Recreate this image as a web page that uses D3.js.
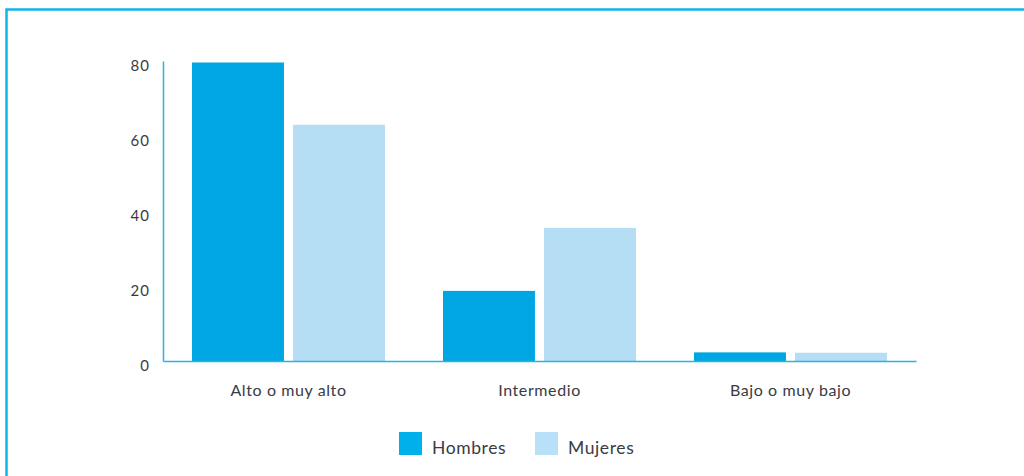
<!DOCTYPE html>
<html><head><meta charset="utf-8">
<script src="https://cdn.jsdelivr.net/npm/d3@7"></script>
<style>
html,body{margin:0;padding:0;background:#fff;}
svg{display:block;}
text{font-family:Lato,"Noto Sans",sans-serif;fill:#3a3a45;}
</style></head>
<body>
<svg id="chart" width="1024" height="476"></svg>
<script>
const categories = ["Alto o muy alto", "Intermedio", "Bajo o muy bajo"];
const seriesNames = ["Hombres", "Mujeres"];
const hombres = [79.6, 18.7, 2.3];
const mujeres = [63.0, 35.5, 2.2];
const yTicks = [0, 20, 40, 60, 80];
const colors = ["#00a6e2", "#b5ddf4"];

(function(){
const svg = d3.select("#chart");
const FONT = "Lato,'Noto Sans',sans-serif";
// frame
svg.append("path").attr("d","M6.5,476 L6.5,9.5 L1030,9.5")
  .attr("fill","none").attr("stroke","#0fb4ea").attr("stroke-width",2.5);

const mLeft = 163, mRight = 916, mTop = 61, mBottom = 361;
const x0 = d3.scaleBand().domain(categories).range([mLeft, mRight]).paddingInner(0).paddingOuter(0);
const x1 = d3.scaleBand().domain(seriesNames).range([29, 222]).paddingInner(0.09);
const y = d3.scaleLinear().domain([0, 80]).range([mBottom, mTop]);

const data = categories.map((c,i)=>({cat:c, vals:[hombres[i], mujeres[i]]}));

const g = svg.append("g");
g.selectAll("g.grp").data(data).join("g").attr("class","grp")
  .attr("transform", d=>`translate(${x0(d.cat)},0)`)
  .selectAll("rect").data(d=>d.vals.map((v,j)=>({s:seriesNames[j], v, j})))
  .join("rect")
  .attr("x", d=>x1(d.s)).attr("width", x1.bandwidth())
  .attr("y", d=>y(d.v)).attr("height", d=>y(0)-y(d.v))
  .attr("fill", d=>colors[d.j]);

// y axis
const ya = svg.append("g").attr("transform",`translate(${mLeft},0)`)
  .call(d3.axisLeft(y).tickValues(yTicks).tickSize(0).tickPadding(13));
ya.select(".domain").attr("stroke","#29b3e6").attr("stroke-width",1.5);
ya.selectAll("text").attr("font-size",15).attr("dy","0.32em").attr("y",5)
  .style("font-family",FONT).style("letter-spacing","1px").attr("fill","#3a3a45");

// x axis
const xa = svg.append("g").attr("transform",`translate(0,${mBottom})`)
  .call(d3.axisBottom(x0).tickSize(0));
xa.select(".domain").attr("stroke","#29b3e6").attr("stroke-width",1.5);
xa.selectAll("text").attr("font-size",16).attr("dy",0).attr("y",35)
  .style("font-family",FONT).style("letter-spacing","0.6px").attr("fill","#3a3a45");

// legend
const legX = [399, 535];
const leg = svg.append("g");
seriesNames.forEach((s,i)=>{
  leg.append("rect").attr("x",legX[i]).attr("y",432).attr("width",23).attr("height",23).attr("fill", i===0?"#00b0ea":"#b8e0f8");
  leg.append("text").attr("x",legX[i]+33).attr("y",454).attr("font-size",17.5)
    .style("letter-spacing","0.6px").text(s);
});
})();
</script>
</body></html>
